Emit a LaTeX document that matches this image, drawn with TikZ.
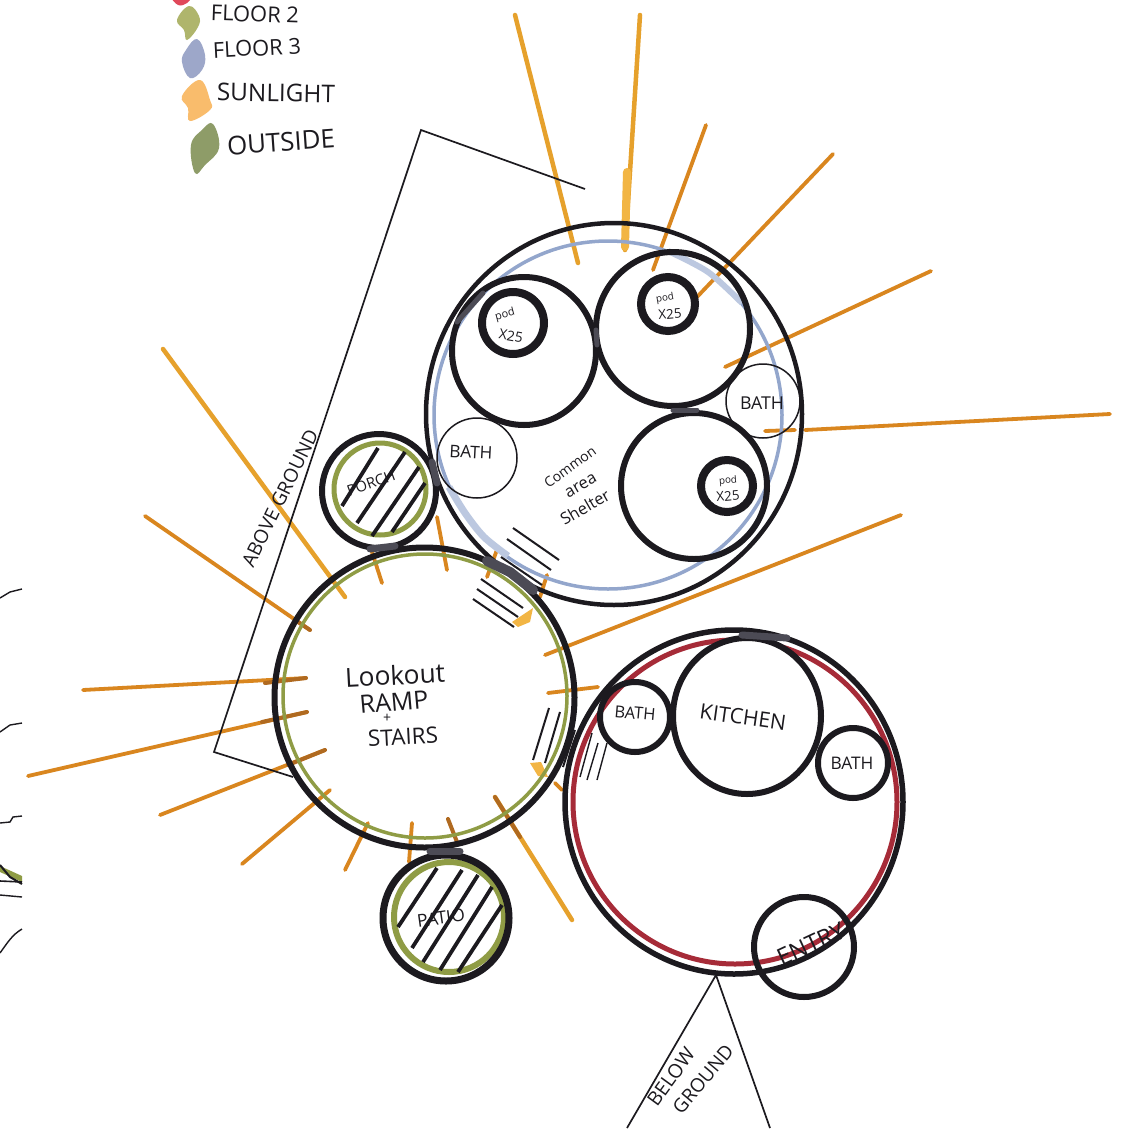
\documentclass[tikz,border=0pt]{standalone}
\usepackage{fontspec}
\usepackage{graphicx}
\setmainfont{Open Sans}
\definecolor{inkc}{HTML}{1C1A1F}
\definecolor{overlapc}{HTML}{4C4B55}
\definecolor{ringblue}{HTML}{93A6CC}
\definecolor{paleblue}{HTML}{BCC8E0}
\definecolor{ringgreen}{HTML}{8F9C45}
\definecolor{ringred}{HTML}{A62B38}
\definecolor{sunc}{HTML}{E6A12C}
\definecolor{sund}{HTML}{D9861F}
\definecolor{sunb}{HTML}{B06A20}
\definecolor{sunlight}{HTML}{F2B544}
\definecolor{blobgreen}{HTML}{AFB56C}
\definecolor{blobblue}{HTML}{9DA7C9}
\definecolor{blobsun}{HTML}{F9BC6C}
\definecolor{blobout}{HTML}{8E9C68}
\definecolor{blobred}{HTML}{E0485A}
\newcommand{\hw}[2]{\resizebox{#1pt}{!}{#2}}
\tikzset{
  heavy/.style={draw=inkc,line width=6},
  heavier/.style={draw=inkc,line width=8},
  thinring/.style={draw=inkc,line width=1.5},
  greenring/.style={draw=ringgreen,line width=5},
  hatch/.style={draw=inkc,line width=3.8},
  stairline/.style={draw=inkc,line width=2},
  bracket/.style={draw=inkc,line width=1.7},
  overlap/.style={draw=overlapc,line width=7,line cap=round},
  ray/.style={draw=sund,line width=3.8,line cap=round},
  raylight/.style={draw=sunc,line width=4.5,line cap=round},
  raydark/.style={draw=sunb,line width=4,line cap=round},
  hand/.style={inner sep=0,text=inkc},
  blob/.style={smooth cycle,tension=0.7},
  scribble/.style={draw=inkc,line width=1.4}
}
\begin{document}
\begin{tikzpicture}[x=1pt,y=-1pt]
\useasboundingbox (0,0) rectangle (1128,1130);
\clip (0,0) rectangle (1128,1130);
\fill[white] (0,0) rectangle (1128,1130);

% edge scribbles
\draw[scribble] (0,598) -- (10,592) -- (22,589);
\draw[scribble] (0,732) -- (10,725) -- (22,723);
\draw[scribble] (0,823) -- (10,822) -- (13,817) -- (22,816);
\fill[ringgreen] (0,866) -- (22,876) -- (22,882) -- (0,872) -- cycle;
\draw[scribble,line width=2] (0,865) -- (10,877) -- (22,884);
\draw[scribble,line width=1.6] (0,881) -- (22,882);
\draw[scribble] (0,895) -- (22,897);
\draw[scribble] (0,953) .. controls (8,942) and (12,935) .. (22,929);

% legend swatches
\fill[blobred] plot[blob] coordinates {(172,-4)(190,-4)(187,3)(178,5)};
\fill[blobgreen] plot[blob] coordinates {(189,6)(199,16)(198,27)(187,40)(184,30)(177,20)};
\fill[blobblue] plot[blob] coordinates {(197,39)(205,55)(202,70)(190,78)(182,62)(186,50)};
\fill[blobsun] plot[blob] coordinates {(200,80)(210,100)(210,110)(190,121)(188,108)(182,96)};
\fill[blobout] plot[blob] coordinates {(213,124)(219,148)(205,165)(195,173)(191,145)(202,130)};

% sun rays
\draw[raylight] (515,15) -- (578,263);
\draw[raylight] (640,15) -- (625,250);
\draw[draw=sunlight,line width=8,line cap=round] (627,172) -- (625,247);
\draw[ray] (706,125) -- (653,270);
\draw[ray] (833,154) -- (697,297);
\draw[ray] (931,271) -- (725,367);
\draw[ray] (1110,414) -- (805,430);
\draw[ray] (795,430) -- (765,431);
\draw[ray] (901,515) -- (545,655);
\draw[raylight] (163,349) -- (345,597);
\draw[ray] (145,516) -- (310,630);
\draw[ray] (83,690) -- (306,678);
\draw[ray] (28,776) -- (307,712);
\draw[ray] (160,815) -- (325,750);
\draw[ray] (242,864) -- (330,790);
\draw[raydark] (265,683) -- (306,678);
\draw[raydark] (262,722) -- (307,712);
\draw[raydark] (288,765) -- (325,750);
\draw[raydark] (295,620) -- (310,630);
\draw[ray] (345,870) -- (368,823);
\draw[ray] (409,862) -- (412,823);
\draw[raydark] (457,842) -- (448,819);
\draw[raylight] (572,920) -- (495,797);
\draw[raydark] (495,797) -- (520,837);
\draw[ray] (437,517) -- (447,570);
\draw[ray] (372,552) -- (382,583);
\draw[ray] (548,693) -- (598,687);
\draw[ray] (555,783) -- (562,790);
\draw[ray] (498,547) -- (487,577);
\draw[ray] (547,575) -- (540,597);
% stair light blobs
\fill[sunlight] (512,622) -- (533,608) -- (530,622) -- (518,627) -- cycle;
\fill[sunlight] (530,763) -- (541,762) -- (548,777) -- (538,776) -- cycle;

% top volume: outer wall and blue ring
\draw[draw=ringblue,line width=3.5] (608,415) circle[radius=174];
\draw[draw=paleblue,line width=7] plot[smooth] coordinates {(449,487)(465,513)(484,537)(508,556)};
\draw[draw=paleblue,line width=6] plot[smooth] coordinates {(668,251)(708,272)(742,303)};
\draw[heavy,line width=4.5] (614,414) ellipse[x radius=188,y radius=191];

% rooms in top volume
\draw[heavy] (524,351) ellipse[x radius=72,y radius=74];
\draw[heavy] (673,329) circle[radius=77];
\draw[heavy] (694,486) circle[radius=73];
\draw[heavier] (513,323) circle[radius=31];
\draw[heavier] (668,304) circle[radius=27];
\draw[heavier] (727,486) circle[radius=26];
\draw[thinring] (763,401) circle[radius=37];
\draw[thinring] (477,458) circle[radius=40];

% bottom volume
\draw[draw=ringred,line width=5] (735,802) circle[radius=162];
\draw[heavy,line width=5.5] (734,802) ellipse[x radius=169,y radius=172];
\draw[heavy,fill=white] (747,716) ellipse[x radius=74,y radius=78];
\draw[heavy] (635,717) circle[radius=35];
\draw[heavy,fill=white] (853,763) circle[radius=35];
\draw[heavy] (804,947) circle[radius=50];

% lookout
\draw[draw=ringgreen,line width=3.5] (425,696) circle[radius=142];
\draw[heavy] (424.5,697.5) circle[radius=150];

% porch
\draw[greenring] (380,489) circle[radius=46];
\draw[heavy] (379,491) circle[radius=57];
\draw[hatch] (378,448) -- (342,506);
\draw[hatch] (405,452) -- (357,523);
\draw[hatch] (419,467) -- (372,536);
\draw[hatch] (425,483) -- (392,532);

% patio
\draw[greenring,line width=6] (449,917) circle[radius=55];
\draw[heavy,line width=7] (446,918) circle[radius=63];
\draw[hatch] (437,868) -- (398,927);
\draw[hatch] (462,870) -- (412,948);
\draw[hatch] (478,875) -- (423,962);
\draw[hatch] (492,887) -- (440,970);
\draw[hatch] (502,905) -- (458,972);

% darker marker overlaps
\draw[overlap,line width=10] (487,561) -- (510,572) -- (533,590);
\draw[overlap] (432,462) -- (437,483);
\draw[overlap] (370,549) -- (395,546);
\draw[overlap] (430,851) -- (460,851);
\draw[overlap] (742,635) -- (787,638);
\draw[overlap,line width=5] (596,330) -- (597,345);
\draw[overlap,line width=5] (673,410) -- (697,410);
\draw[overlap,line width=5] (457,322) -- (483,293);

% stair lines
\draw[stairline] (513,528) -- (559,560);
\draw[stairline] (507,539) -- (551,570);
\draw[stairline] (501,557) -- (542,585);
\draw[stairline] (481,579) -- (523,608);
\draw[stairline] (477,589) -- (518,617);
\draw[stairline] (473,599) -- (514,627);
\draw[stairline] (549,708) -- (533,760);
\draw[stairline] (560,712) -- (545,763);
\draw[stairline] (575,730) -- (563,767);
\draw[stairline,line width=1.4] (592,733) -- (580,777);
\draw[stairline,line width=1.4] (598,743) -- (587,780);
\draw[stairline,line width=1.4] (607,743) -- (597,780);

% brackets
\coordinate (ag1) at (585,189);
\coordinate (ag2) at (421,130);
\coordinate (ag3) at (214,752);
\coordinate (ag4) at (293,777);
\coordinate (bg1) at (627,1128);
\coordinate (bg2) at (716,975);
\coordinate (bg3) at (770,1128);
\draw[bracket] (ag1) -- (ag2) -- (ag3) -- (ag4);
\draw[bracket] (bg1) -- (bg2) -- (bg3);

% labels
\node[hand,rotate=-2] (lfa) at (255,14) {\hw{88}{FLOOR 2}};
\node[hand,rotate=3] (lfb) at (257,48) {\hw{88}{FLOOR 3}};
\node[hand,rotate=-1] (lsun) at (276,93) {\hw{118}{SUNLIGHT}};
\node[hand,rotate=4] (lout) at (281,142) {\hw{108}{OUTSIDE}};
\node[hand,rotate=64] (labove) at (280,498) {\hw{150}{ABOVE GROUND}};
\node[hand,rotate=54] (lbelow) at (671,1077) {\hw{66}{BELOW}};
\node[hand,rotate=50] (lground) at (703,1079) {\hw{83}{GROUND}};
\node[hand,rotate=15] (lpa) at (505,315) {\hw{20}{pod}};
\node[hand,rotate=-10] (lpb) at (511,336) {\hw{24}{X25}};
\node[hand,rotate=10] (lpc) at (665,298) {\hw{18}{pod}};
\node[hand,rotate=5] (lpd) at (670,314) {\hw{23}{X25}};
\node[hand,rotate=5] (lpe) at (728,481) {\hw{18}{pod}};
\node[hand,rotate=5] (lpf) at (728,496) {\hw{23}{X25}};
\node[hand] (lbtr) at (762,403) {\hw{44}{BATH}};
\node[hand,rotate=-3] (lbtl) at (471,452) {\hw{43}{BATH}};
\node[hand,rotate=36] (lcoma) at (570,467) {\hw{60}{Common}};
\node[hand,rotate=30] (lcomb) at (581,486) {\hw{34}{area}};
\node[hand,rotate=30] (lcomc) at (585,507) {\hw{54}{Shelter}};
\node[hand,rotate=20] (lporch) at (371,483) {\hw{50}{PORCH}};
\node[hand,rotate=8] (lpatio) at (441,918) {\hw{48}{PATIO}};
\node[hand,rotate=3] (llook) at (395,675) {\hw{100}{Lookout}};
\node[hand,rotate=5] (lramp) at (394,702) {\hw{69}{RAMP}};
\node[hand] (lplus) at (387,718) {\hw{8}{+}};
\node[hand,rotate=3] (lstairs) at (403,737) {\hw{70}{STAIRS}};
\node[hand,rotate=-8] (lkitchen) at (743,717) {\hw{87}{KITCHEN}};
\node[hand,rotate=-5] (lbba) at (635,713) {\hw{41}{BATH}};
\node[hand] (lbbb) at (852,763) {\hw{43}{BATH}};
\node[hand,rotate=25] (lentry) at (811,944) {\hw{72}{ENTRY}};
\end{tikzpicture}
\end{document}
